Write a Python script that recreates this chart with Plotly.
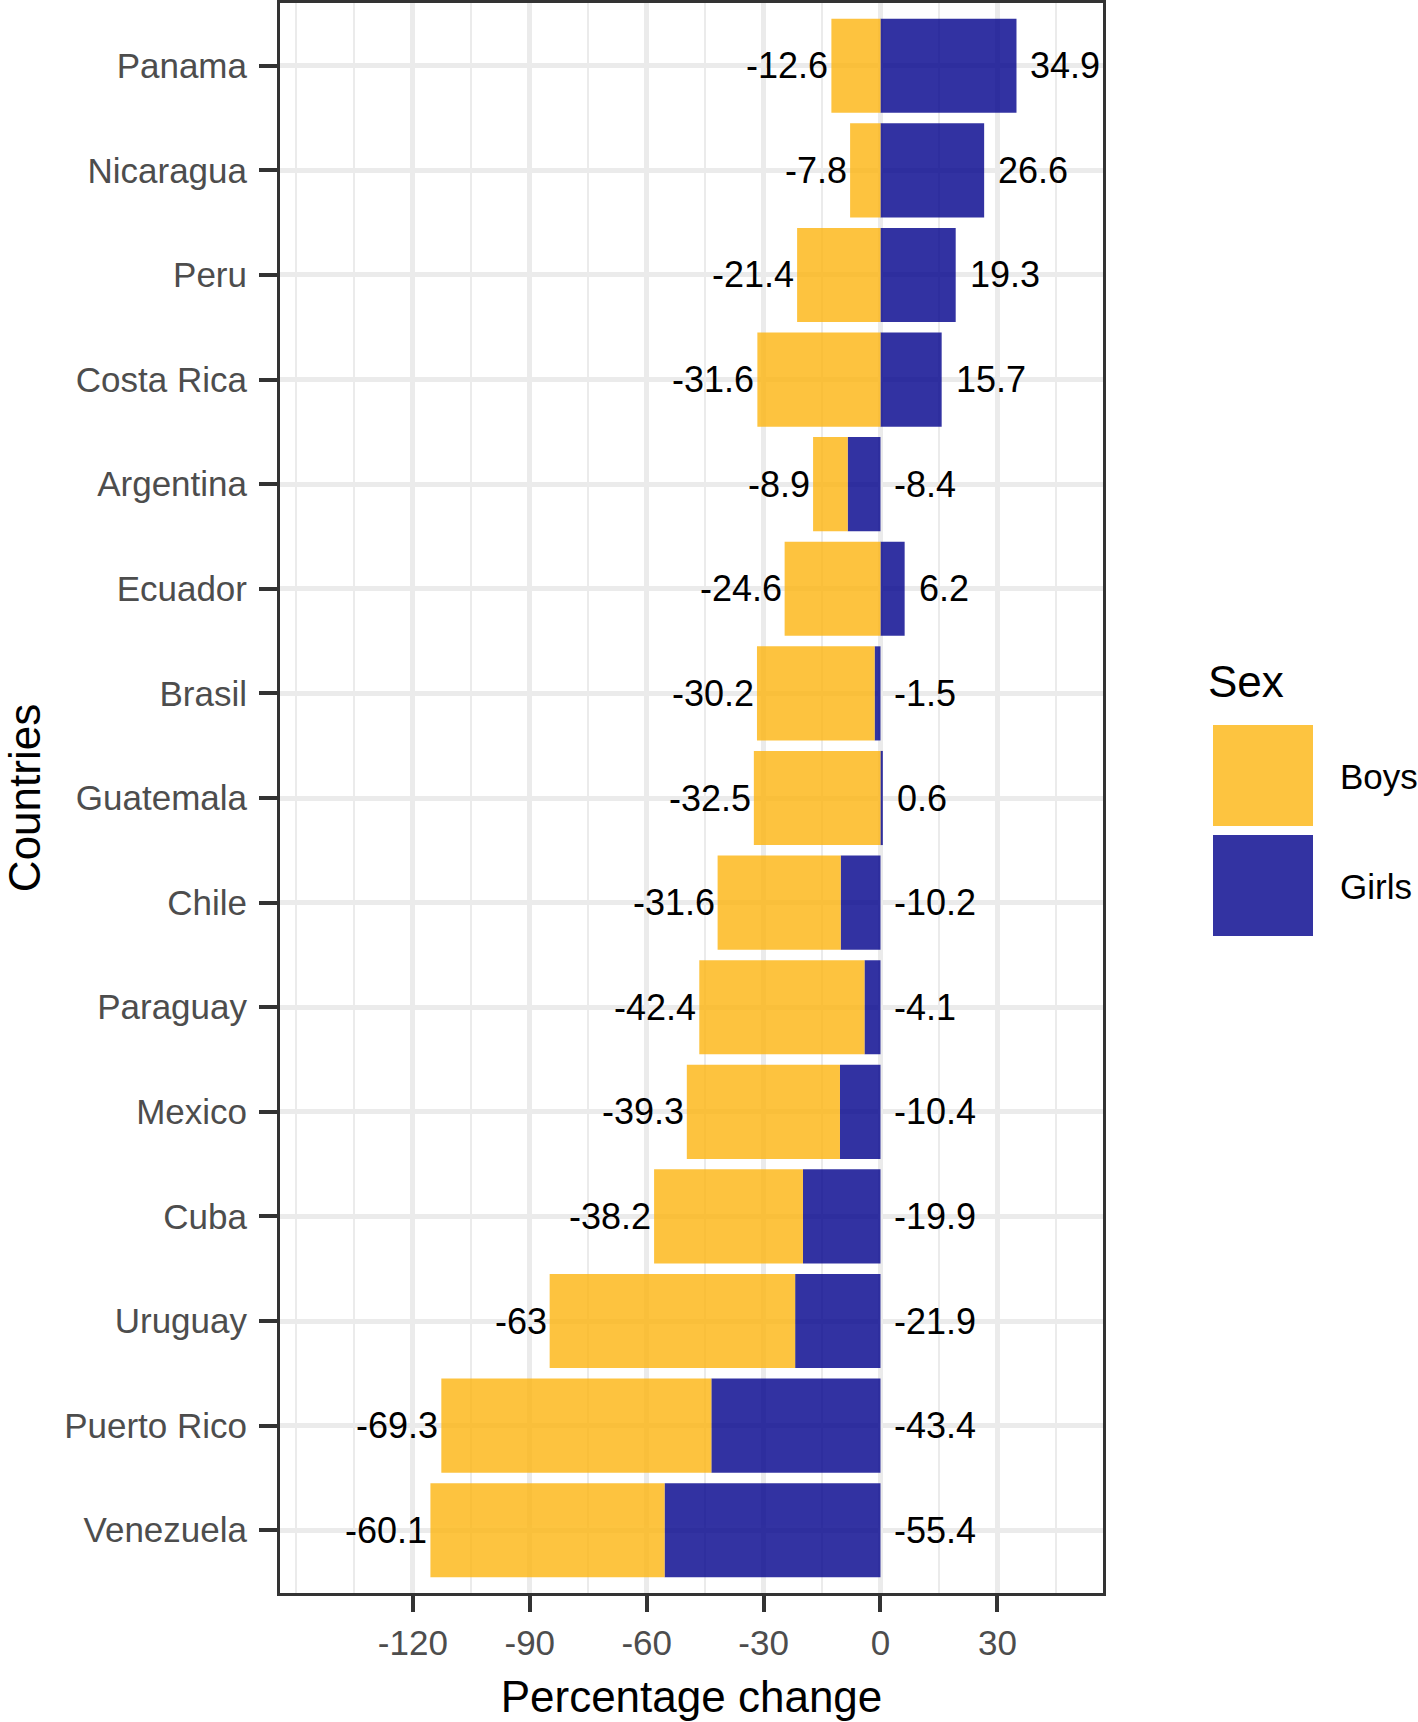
import plotly.graph_objects as go

# ---------------- data ----------------
countries = ["Panama", "Nicaragua", "Peru", "Costa Rica", "Argentina", "Ecuador",
             "Brasil", "Guatemala", "Chile", "Paraguay", "Mexico", "Cuba",
             "Uruguay", "Puerto Rico", "Venezuela"]
boys = [-12.6, -7.8, -21.4, -31.6, -8.9, -24.6, -30.2, -32.5, -31.6, -42.4,
        -39.3, -38.2, -63.0, -69.3, -60.1]
girls = [34.9, 26.6, 19.3, 15.7, -8.4, 6.2, -1.5, 0.6, -10.2, -4.1,
         -10.4, -19.9, -21.9, -43.4, -55.4]
x_ticks = [-120, -90, -60, -30, 0, 30]
series_names = ["Boys", "Girls"]

BOYS_COL = "#FDB510"
GIRLS_COL = "#00008B"
OPAC = 0.8
FONT = "Liberation Sans, Arial, sans-serif"

W, H = 1418, 1722
L, R, T, B = 280, 1103, 3, 1593  # panel edges in pixels

fig = go.Figure()
fig.add_trace(go.Bar(y=countries, x=girls, orientation="h", name="Girls",
                     marker=dict(color=GIRLS_COL, line=dict(width=0)), opacity=OPAC,
                     showlegend=False))
fig.add_trace(go.Bar(y=countries, x=boys, orientation="h", name="Boys",
                     marker=dict(color=BOYS_COL, line=dict(width=0)), opacity=OPAC,
                     showlegend=False))

# value labels
for c, b, g in zip(countries, boys, girls):
    b_end = b + min(g, 0)
    fig.add_annotation(x=b_end, y=c, xref="x", yref="y", text=f"{b:g}",
                       showarrow=False, xanchor="right", xshift=-1,
                       font=dict(family=FONT, size=36, color="black"))
    fig.add_annotation(x=max(g, 0), y=c, xref="x", yref="y", text=f"{g:g}",
                       showarrow=False, xanchor="left", xshift=12,
                       font=dict(family=FONT, size=36, color="black"))

def px_x(px):
    return (px - L) / (R - L)

def px_y(py):
    return (B - py) / (B - T)

# custom legend (ggplot style big keys)
fig.add_annotation(x=px_x(1206), y=px_y(681), xref="paper", yref="paper",
                   text="Sex", showarrow=False, xanchor="left", yanchor="middle",
                   font=dict(family=FONT, size=44, color="black"))
legend_cols = [BOYS_COL, GIRLS_COL]
key_tops = [725, 835]
for name, col, top in zip(series_names, legend_cols, key_tops):
    fig.add_shape(type="rect", xref="paper", yref="paper",
                  x0=px_x(1213), x1=px_x(1313), y0=px_y(top + 101), y1=px_y(top),
                  fillcolor=col, opacity=OPAC, line=dict(width=0))
    fig.add_annotation(x=px_x(1338), y=px_y(top + 51), xref="paper", yref="paper",
                       text=name, showarrow=False, xanchor="left", yanchor="middle",
                       font=dict(family=FONT, size=35, color="black"))

n = len(countries)
fig.update_layout(
    width=W, height=H,
    barmode="relative", bargap=0.1,
    plot_bgcolor="white", paper_bgcolor="white",
    margin=dict(l=L, r=W - R, t=T, b=H - B, autoexpand=False),
    showlegend=False,
    font=dict(family=FONT),
)
fig.update_xaxes(
    range=[-154.1, 57.1], tickmode="array", tickvals=x_ticks,
    ticktext=[str(v) for v in x_ticks],
    showgrid=True, gridcolor="#EBEBEB", gridwidth=4.5,
    minor=dict(dtick=15, tick0=0, showgrid=True, gridcolor="#EBEBEB", gridwidth=2.2),
    zeroline=False,
    ticks="outside", ticklen=16, tickwidth=4, tickcolor="#333333",
    tickfont=dict(family=FONT, size=35, color="#4D4D4D"),
    ticklabelstandoff=1,
    showline=True, linecolor="#333333", linewidth=3, mirror=True,
    title=dict(text="Percentage change", font=dict(family=FONT, size=44, color="black"),
               standoff=21),
)
fig.update_yaxes(
    categoryorder="array", categoryarray=countries,
    range=[n - 0.4, -0.6],
    showgrid=True, gridcolor="#EBEBEB", gridwidth=4.5,
    ticks="outside", ticklen=18, tickwidth=4, tickcolor="#333333",
    tickfont=dict(family=FONT, size=35, color="#4D4D4D"),
    ticklabelstandoff=5,
    showline=True, linecolor="#333333", linewidth=3, mirror=True,
    title=dict(text="Countries", font=dict(family=FONT, size=44, color="black"),
               standoff=31),
)

fig.write_html("out.html", config={"displayModeBar": False},
               post_script="document.body.style.margin='0';document.body.style.padding='0';")
